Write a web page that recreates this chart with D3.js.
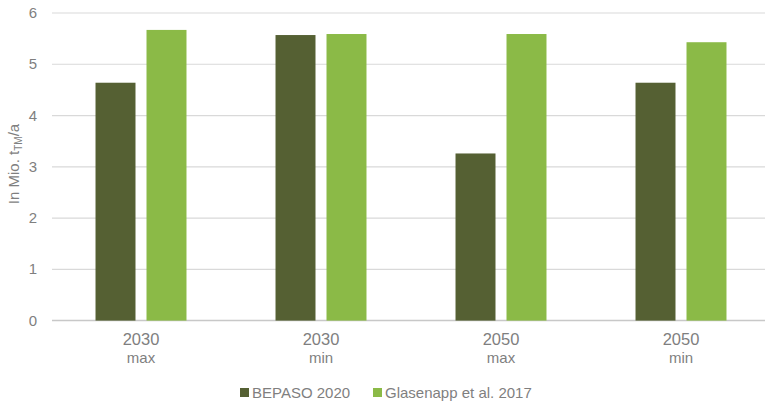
<!DOCTYPE html>
<html><head><meta charset="utf-8">
<script src="https://cdn.jsdelivr.net/npm/d3@7"></script>
<style>body{margin:0;background:#fff;} svg{display:block;font-family:"Liberation Sans",Arial,sans-serif;}</style>
</head><body>
<svg id="c" width="765" height="403"></svg>
<script>
const categories = ["2030|max","2030|min","2050|max","2050|min"];
const seriesNames = ["BEPASO 2020","Glasenapp et al. 2017"];
const bepaso = [4.64, 5.57, 3.26, 4.64];
const glasenapp = [5.67, 5.59, 5.59, 5.43];
const yTicks = [0,1,2,3,4,5,6];
const colors = ["#556033","#8bba47"];

const svg = d3.select("#c");
const x = d3.scaleBand().domain(categories).range([51,771]);
const y = d3.scaleLinear().domain([0,6]).range([320.6,13]);
const inner = d3.scaleBand().domain([0,1]).range([0, x.bandwidth()]).paddingInner(0.216).paddingOuter(0.873);

// grid
svg.append("g").selectAll("line").data(yTicks).join("line")
  .attr("x1",52).attr("x2",765)
  .attr("y1",d=>y(d)).attr("y2",d=>y(d))
  .attr("stroke",d=>d===0?"#c8c8c8":"#d9d9d9").attr("stroke-width",d=>d===0?1.5:1.2);

// y labels
svg.append("g").selectAll("text").data(yTicks).join("text")
  .attr("x",37).attr("y",d=>y(d)+5).attr("text-anchor","end")
  .attr("font-size",15).attr("fill","#7f7f7f").text(d=>d);

// y title
const yt = svg.append("text").attr("transform","translate(19,164) rotate(-90)")
  .attr("text-anchor","middle").attr("font-size",15).attr("fill","#7f7f7f");
yt.append("tspan").text("In Mio. t");
yt.append("tspan").attr("font-size",10).attr("dy",3).text("TM");
yt.append("tspan").attr("dy",-3).text("/a");

const data = [bepaso, glasenapp];
data.forEach((vals,si)=>{
  svg.append("g").selectAll("rect").data(vals).join("rect")
    .attr("x",(d,i)=>x(categories[i])+inner(si))
    .attr("width",inner.bandwidth())
    .attr("y",d=>y(d)).attr("height",d=>y(0)-y(d))
    .attr("fill",colors[si]);
});

// x labels
const xl = svg.append("g").selectAll("g").data(categories).join("g")
  .attr("transform",d=>`translate(${x(d)+x.bandwidth()/2},0)`);
xl.append("text").attr("y",345).attr("text-anchor","middle").attr("font-size",16.5).attr("fill","#7f7f7f").text(d=>d.split("|")[0]);
xl.append("text").attr("y",363).attr("text-anchor","middle").attr("font-size",15).attr("fill","#7f7f7f").text(d=>d.split("|")[1]);

// legend
const legX = [240, 373];
const lg = svg.append("g").selectAll("g").data(seriesNames).join("g")
  .attr("transform",(d,i)=>`translate(${legX[i]},0)`);
lg.append("rect").attr("x",0).attr("y",388).attr("width",9).attr("height",9).attr("fill",(d,i)=>colors[i]);
lg.append("text").attr("x",12).attr("y",397.5).attr("font-size",15).attr("fill","#7f7f7f").text(d=>d);
</script>
</body></html>
